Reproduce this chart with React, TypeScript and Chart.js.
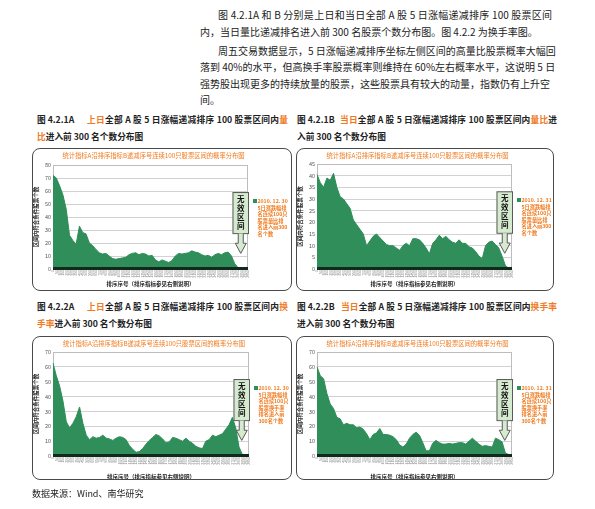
import React, { useEffect, useRef } from 'react';
import { Chart, registerables } from 'chart.js';

Chart.register(...registerables);

// ---------- data ----------
const rankLabels = ['1','51','101','151','201','251','301','351','401','451','501','551','601','651','701','751','801','851','901','951','1001','1051','1101','1151','1201','1251','1301','1351','1401','1451','1501','1551','1601','1651','1701','1751','1801','1851','1901','1951','2001','2051','2101','2151','2201','2251','2301','2351','2401','2451','2501','2551','2601','2651','2701','2751','2801','2851','2901','2951'];

// 图4.2.1A 上日 量比
const prevVolumeCount = [72,70,64,57,46,26,22,19,33,28,27,20,18,15,12.5,11.5,12,10,8,7.5,8,8.5,9,11,12,12.5,11,12,11.5,10,10.5,7,5.5,7,6,5,6.5,10,12,11.5,12,12.5,14,13,12.5,11,10,10.5,9,11,12,11,12.5,13,10,4,1,1,1,1];
// 图4.2.1B 当日 量比
const currVolumeCount = [40.5,37,35,39,38,41,35,31,30,28,26,21,19,17,15,10,12,14,15,13.5,12,10.5,10,10,9,8,10,11,10,13,13,12.5,11,9,6.5,11,12.5,14.5,13,14,12.5,11.5,11,12.5,11,11,9.5,9,7.5,5.5,4.5,10,11.5,12,10.5,9,5.5,1.5,0.3,0.3];
// 图4.2.2A 上日 换手率
const prevTurnoverCount = [62.5,54,47,37,23,19,22,26.5,33,22,14,11,13,12,12.5,14,12,11.5,10.5,12,13,12.5,11,7,4.5,2.5,3,5,8,10.5,12.5,14.5,13.5,11.5,9,9.5,12.5,12,11,10,12,10,8.5,6.5,5.5,5,10,11,14,13,14,15,18,21,26,19,6,1,1,1];
// 图4.2.2B 当日 换手率
const currTurnoverCount = [60,54,52,42,35,32,26,25,21,22,21,21,19,19.5,18,15,11,14.5,15.5,18.5,14.5,14.5,14,13,11,7.5,6,8,12,14.5,16,14,9,3.5,3.5,8.5,10.5,9,8,8,8.5,8,8.5,9,9,8,10,12,10,8,6.5,7,6.5,6,12,11,9.5,2,1,1];

const legendPrevVolume = ['2010. 12. 30', '5日涨跌幅排', '名连续100只', '股票量比排', '名进入前300', '名个数'];
const legendCurrVolume = ['2010. 12. 31', '5日涨跌幅排', '名连续100只', '股票量比排', '名进入前300', '名个数'];
const legendPrevTurnover = ['2010. 12. 30', '5日涨跌幅排', '名连续100只', '股票换手率', '排名进入前', '300名个数'];
const legendCurrTurnover = ['2010. 12. 31', '5日涨跌幅排', '名连续100只', '股票换手率', '排名进入前', '300名个数'];

const chartTitle = '统计指标A沿排序指标B递减序号连续100只股票区间的概率分布图';
const xTitle = '排序序号（排序指标参见右侧说明）';
const yTitle = '区间内符合条件股票个数';
const calloutChars = ['无', '效', '区', '间'];

// ---------- styles ----------
const FONT = '"Noto Sans CJK SC", "Noto Sans", sans-serif';
const GREEN = '#2f8e5a';
const ORANGE = '#f07a1e';

type Cfg = {
  left: number; top: number; w: number; h: number;
  values: number[]; yMax: number; yStep: number; legend: string[];
  padTop: number; padRight: number; padBottom: number; plotBottom: number;
};

function Panel({ cfg }: { cfg: Cfg }) {
  const ref = useRef<HTMLCanvasElement>(null);
  useEffect(() => {
    const overlay = {
      id: 'overlay',
      beforeDatasetsDraw(chart: any) {
        const { ctx, chartArea: a } = chart;
        ctx.save();
        ctx.strokeStyle = '#bdbdbd';
        ctx.lineWidth = 1;
        ctx.strokeRect(a.left + 0.5, a.top + 0.5, a.right - a.left - 1, a.bottom - a.top);
        ctx.restore();
      },
      afterDatasetsDraw(chart: any) {
        const { ctx, chartArea: a } = chart;
        ctx.save();
        ctx.fillStyle = '#122a1b';
        ctx.fillRect(a.left, a.bottom - 2, a.right - a.left, 3);
        ctx.restore();
      },
      afterDraw(chart: any) {
        const { ctx, chartArea: a } = chart;
        const h = a.bottom - a.top;
        ctx.save();
        // title
        ctx.font = `6.3px ${FONT}`;
        ctx.fillStyle = ORANGE;
        ctx.textAlign = 'center';
        ctx.textBaseline = 'middle';
        ctx.fillText(chartTitle, (a.left + a.right) / 2 + 3, 7.5);
        // legend
        ctx.fillStyle = GREEN;
        const ly = a.top + 36;
        ctx.fillRect(a.right + 5, ly - 2, 4, 4);
        ctx.font = `bold 5.2px ${FONT}`;
        ctx.fillStyle = ORANGE;
        ctx.textAlign = 'left';
        cfg.legend.forEach((t, i) => ctx.fillText(t, a.right + 9.5, ly + i * 6.6));
        // callout
        const bx0 = a.right - 15.5, bx1 = a.right + 1;
        const by0 = a.top + 0.26 * h, by1 = a.top + 0.655 * h, tip = a.top + 0.85 * h;
        const cx = (bx0 + bx1) / 2;
        ctx.fillStyle = '#d6ead0';
        ctx.strokeStyle = '#5a5a5a';
        ctx.lineWidth = 1;
        ctx.fillRect(bx0, by0, bx1 - bx0, by1 - by0);
        ctx.strokeRect(bx0 + 0.5, by0 + 0.5, bx1 - bx0 - 1, by1 - by0);
        const hy = by1 + (tip - by1) / 2;
        ctx.beginPath();
        ctx.moveTo(cx - 2.5, by1 + 0.5);
        ctx.lineTo(cx - 2.5, hy);
        ctx.lineTo(cx - 5.5, hy);
        ctx.lineTo(cx, tip);
        ctx.lineTo(cx + 5.5, hy);
        ctx.lineTo(cx + 2.5, hy);
        ctx.lineTo(cx + 2.5, by1 + 0.5);
        ctx.fill();
        ctx.stroke();
        ctx.fillStyle = '#111';
        ctx.font = `bold 7.5px ${FONT}`;
        ctx.textAlign = 'center';
        const step = (by1 - by0) / 4.6;
        calloutChars.forEach((c, i) => ctx.fillText(c, cx, by0 + step * (i + 0.8)));
        ctx.restore();
      },
    };
    const chart = new Chart(ref.current as HTMLCanvasElement, {
      type: 'line',
      data: {
        labels: rankLabels,
        datasets: [{
          data: cfg.values,
          fill: 'origin',
          backgroundColor: GREEN,
          borderColor: GREEN,
          borderWidth: 1,
          pointRadius: 0,
          tension: 0,
        }],
      },
      options: {
        responsive: false,
        animation: false,
        layout: { padding: { left: 1, right: cfg.padRight, top: cfg.padTop, bottom: cfg.padBottom } },
        plugins: { legend: { display: false }, tooltip: { enabled: false }, title: { display: false } },
        scales: {
          x: {
            grid: { display: false, drawTicks: false },
            border: { display: false },
            ticks: { autoSkip: false, maxRotation: 90, minRotation: 90, padding: 1, color: '#8a8a8a', font: { size: 3.5, family: FONT } },
            title: { display: true, text: xTitle, color: '#222', padding: 0, font: { size: 5.5, weight: 'bold', family: FONT } },
            afterFit: (s: any) => { s.height = cfg.h - cfg.plotBottom - cfg.padBottom; },
          },
          y: {
            min: 0,
            max: cfg.yMax,
            grid: { color: '#d2d2d2', drawTicks: false },
            border: { display: false },
            ticks: { stepSize: cfg.yStep, padding: 2, color: '#555', font: { size: 5.5, family: FONT } },
            title: { display: true, text: yTitle, color: '#222', padding: 0, font: { size: 5.5, weight: 'bold', family: FONT } },
            afterFit: (s: any) => { s.width = 20; },
          },
        },
      } as any,
      plugins: [overlay],
    });
    return () => chart.destroy();
  }, []);
  return (
    <div style={{ position: 'absolute', left: cfg.left, top: cfg.top, width: cfg.w, height: cfg.h }}>
      <canvas ref={ref} width={cfg.w} height={cfg.h} style={{ position: 'absolute', left: 0, top: 0, width: cfg.w, height: cfg.h }} />
      <div style={{ position: 'absolute', left: 0, top: 0, width: cfg.w, height: cfg.h, boxSizing: 'border-box', border: '1px solid #4a4a4a', borderRadius: 8, pointerEvents: 'none' }} />
    </div>
  );
}

const O = ({ children }: { children: React.ReactNode }) => <span style={{ color: ORANGE }}>{children}</span>;

function Line({ x, y, w, justify, children, size = 10, bold = false }: any) {
  return (
    <div style={{
      position: 'absolute', left: x, top: y - 7, width: w, height: 14, lineHeight: '14px',
      fontSize: size, fontWeight: bold ? 700 : 400, whiteSpace: 'nowrap',
      textAlign: justify ? 'justify' : 'left', textAlignLast: justify ? 'justify' : 'left',
      color: '#222',
    }}>{children}</div>
  );
}

const CAP = 8.7;

export default function App() {
  const panels: Cfg[] = [
    { left: 32, top: 148, w: 260, h: 143, values: prevVolumeCount, yMax: 80, yStep: 10, legend: legendPrevVolume, padTop: 17, padRight: 44, padBottom: 4, plotBottom: 121 },
    { left: 296, top: 148, w: 258, h: 143, values: currVolumeCount, yMax: 45, yStep: 5, legend: legendCurrVolume, padTop: 16, padRight: 42, padBottom: 4, plotBottom: 121 },
    { left: 32, top: 336, w: 260, h: 144, values: prevTurnoverCount, yMax: 70, yStep: 10, legend: legendPrevTurnover, padTop: 16, padRight: 43, padBottom: 0, plotBottom: 120 },
    { left: 296, top: 336, w: 258, h: 144, values: currTurnoverCount, yMax: 70, yStep: 10, legend: legendCurrTurnover, padTop: 16, padRight: 42, padBottom: 0, plotBottom: 120 },
  ];
  return (
    <div style={{ position: 'absolute', left: 0, top: 0, width: 595, height: 509, background: '#fff', fontFamily: FONT, overflow: 'hidden' }}>
      <Line x={218} y={15} w={334} justify>图 4.2.1A 和 B 分别是上日和当日全部 A 股 5 日涨幅递减排序 100 股票区间</Line>
      <Line x={200} y={32} w={340}>内，当日量比递减排名进入前 300 名股票个数分布图。图 4.2.2 为换手率图。</Line>
      <Line x={218} y={51} w={332} justify>周五交易数据显示，5 日涨幅递减排序坐标左侧区间的高量比股票概率大幅回</Line>
      <Line x={200} y={67} w={348} justify>落到 40%的水平，但高换手率股票概率则维持在 60%左右概率水平，这说明 5 日</Line>
      <Line x={200} y={84} w={349} justify>强势股出现更多的持续放量的股票，这些股票具有较大的动量，指数仍有上升空</Line>
      <Line x={200} y={100} w={60}>间。</Line>

      <Line x={37} y={120} w={40} size={CAP} bold>图 4.2.1A</Line>
      <Line x={87} y={120} w={201} size={CAP} bold justify><O>上日</O>全部 A 股 5 日涨幅递减排序 100 股票区间内<O>量</O></Line>
      <Line x={37} y={137} w={200} size={CAP} bold><O>比</O>进入前 300 名个数分布图</Line>
      <Line x={297} y={120} w={40} size={CAP} bold>图 4.2.1B</Line>
      <Line x={340} y={120} w={217} size={CAP} bold justify><O>当日</O>全部 A 股 5 日涨幅递减排序 100 股票区间内<O>量比</O>进</Line>
      <Line x={297} y={137} w={200} size={CAP} bold>入前 300 名个数分布图</Line>

      <Line x={37} y={307} w={40} size={CAP} bold>图 4.2.2A</Line>
      <Line x={87} y={307} w={201} size={CAP} bold justify><O>上日</O>全部 A 股 5 日涨幅递减排序 100 股票区间内<O>换</O></Line>
      <Line x={37} y={324} w={200} size={CAP} bold><O>手率</O>进入前 300 名个数分布图</Line>
      <Line x={297} y={307} w={40} size={CAP} bold>图 4.2.2B</Line>
      <Line x={341} y={307} w={216} size={CAP} bold justify><O>当日</O>全部 A 股 5 日涨幅递减排序 100 股票区间内<O>换手率</O></Line>
      <Line x={297} y={324} w={200} size={CAP} bold>进入前 300 名个数分布图</Line>

      {panels.map((p, i) => <Panel key={i} cfg={p} />)}

      <Line x={32} y={494} w={200} size={9}>数据来源：Wind、南华研究</Line>
    </div>
  );
}
